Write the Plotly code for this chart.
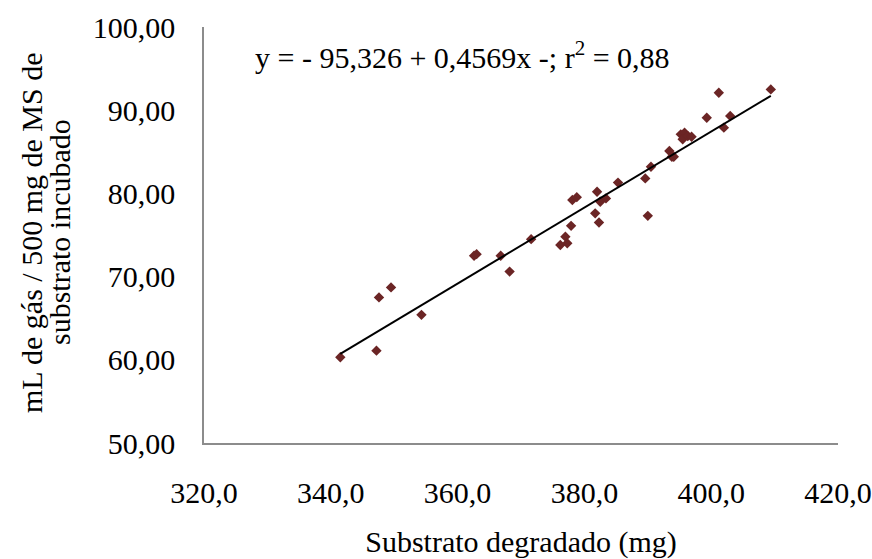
import plotly.graph_objects as go

# Degraded substrate (mg) and gas volume (mL / 500 mg DM incubated)
substrato_degradado = [
    341.5, 347.2, 347.6, 349.5, 354.3, 362.6, 363.0, 366.8, 368.2, 371.6,
    376.2, 377.0, 377.3, 377.9, 378.1, 378.8, 382.0, 381.7, 382.3, 382.5,
    383.4, 385.3, 389.6, 390.0, 390.5, 393.4, 393.8, 394.1, 395.2, 395.8,
    395.5, 396.3, 396.9, 399.3, 401.2, 402.0, 403.0, 409.4,
]
ml_gas = [
    60.3, 61.1, 67.5, 68.7, 65.4, 72.5, 72.7, 72.5, 70.6, 74.5,
    73.8, 74.8, 74.0, 76.1, 79.2, 79.55, 80.2, 77.6, 76.5, 79.0,
    79.4, 81.3, 81.8, 77.3, 83.2, 85.1, 84.4, 84.4, 87.1, 87.3,
    86.5, 86.9, 86.8, 89.1, 92.1, 87.9, 89.3, 92.5,
]

# Linear fit reported on the chart
intercepto = -95.326
inclinacao = 0.4569
equacao = "y = - 95,326 + 0,4569x -; r<sup>2</sup> = 0,88"

x_range = [320, 420]
y_range = [50, 100]
x_ticks = [320, 340, 360, 380, 400, 420]
y_ticks = [50, 60, 70, 80, 90, 100]

titulo_x = "Substrato degradado (mg)"
titulo_y = ["mL de gás / 500 mg de MS de", "substrato incubado"]

FONT = "Liberation Serif, Times New Roman, serif"
FS = 30
txt_font = dict(family=FONT, size=FS, color="black")

x_fit = [min(substrato_degradado), max(substrato_degradado)]
y_fit = [intercepto + inclinacao * v for v in x_fit]

fig = go.Figure()
fig.add_trace(go.Scatter(
    x=substrato_degradado, y=ml_gas, mode="markers",
    marker=dict(symbol="diamond", size=8, color="#6B2525"),
    showlegend=False, hoverinfo="x+y",
))
fig.add_trace(go.Scatter(
    x=x_fit, y=y_fit, mode="lines",
    line=dict(color="black", width=2),
    showlegend=False, hoverinfo="skip",
))

L, R, T, B = 204, 34, 27, 116
W, H = 872, 559
pw, ph = W - L - R, H - T - B

fig.update_layout(
    width=W, height=H,
    margin=dict(l=L, r=R, t=T, b=B),
    paper_bgcolor="white", plot_bgcolor="white",
    separators=",.",
    font=txt_font,
    xaxis=dict(
        range=x_range, tickvals=x_ticks, tickformat=".1f",
        showgrid=False, zeroline=False, automargin=False,
        showline=True, linecolor="#8c8c8c", linewidth=1.5,
        ticks="", ticklabelstandoff=22, tickfont=txt_font,
        title=dict(text=titulo_x, standoff=30, font=txt_font),
    ),
    yaxis=dict(
        range=y_range, tickvals=y_ticks, tickformat=".2f",
        showgrid=False, zeroline=False, automargin=False,
        showline=True, linecolor="#8c8c8c", linewidth=1.5,
        ticks="", ticklabelstandoff=21, tickfont=txt_font,
    ),
    annotations=[
        dict(text=equacao, x=(462 - L) / pw, y=(H - B - 55) / ph,
             xref="paper", yref="paper", xanchor="center", yanchor="middle",
             showarrow=False, font=txt_font),
        dict(text=titulo_y[0], x=(31 - L) / pw, y=(H - B - 232) / ph,
             xref="paper", yref="paper", xanchor="center", yanchor="middle",
             textangle=-90, showarrow=False, font=txt_font),
        dict(text=titulo_y[1], x=(59 - L) / pw, y=(H - B - 232) / ph,
             xref="paper", yref="paper", xanchor="center", yanchor="middle",
             textangle=-90, showarrow=False, font=txt_font),
    ],
)

fig.write_html("out.html")
